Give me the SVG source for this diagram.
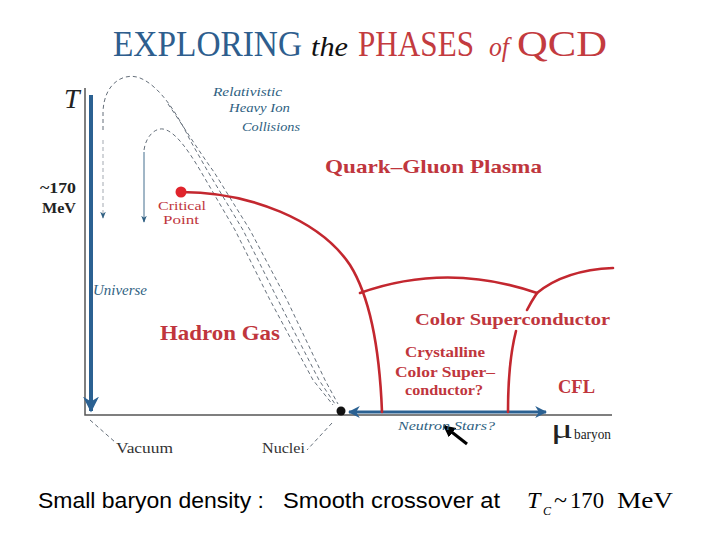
<svg xmlns="http://www.w3.org/2000/svg" width="720" height="540" viewBox="0 0 720 540">
<style>
.serif{font-family:"Liberation Serif","DejaVu Serif",serif}
.red{fill:#c0363d}
.blue{fill:#2f5f82}
.it{font-style:italic}
.b{font-weight:bold}
.dash{fill:none;stroke:#3d4a58;stroke-width:0.8;stroke-dasharray:4 3}
.phase{fill:none;stroke:#c3272f;stroke-width:2.6;stroke-linecap:round}
.sans{font-family:"Liberation Sans",Arial,sans-serif}
</style>
<defs>
<marker id="ab" viewBox="0 0 10 10" refX="9" refY="5" markerWidth="4" markerHeight="4" orient="auto-start-reverse" markerUnits="strokeWidth"><path d="M0,0 L10,5 L0,10 L3,5 z" fill="#2b6192"/></marker>
<marker id="as" viewBox="0 0 10 10" refX="9" refY="5" markerWidth="7" markerHeight="7" orient="auto" markerUnits="userSpaceOnUse"><path d="M0,1 L10,5 L0,9 L3,5 z" fill="#2f5f82"/></marker>
<marker id="ak" viewBox="0 0 10 10" refX="9" refY="5" markerWidth="4" markerHeight="4" orient="auto" markerUnits="strokeWidth"><path d="M0,0 L10,5 L0,10 z" fill="#000"/></marker>
</defs>
<rect width="720" height="540" fill="#fff"/>

<g id="title" class="serif">
<text x="113" y="56" font-size="35" fill="#2e5e8e" textLength="189" lengthAdjust="spacingAndGlyphs">EXPLORING</text>
<text x="311" y="56" font-size="28" class="it" fill="#111" textLength="37" lengthAdjust="spacingAndGlyphs">the</text>
<text x="358" y="56" font-size="35" fill="#c33b3f" textLength="116" lengthAdjust="spacingAndGlyphs">PHASES</text>
<text x="489" y="56" font-size="27" class="it" fill="#c33b3f" textLength="20" lengthAdjust="spacingAndGlyphs">of</text>
<text x="517" y="56" font-size="35" fill="#c33b3f" textLength="90" lengthAdjust="spacingAndGlyphs">QCD</text>
</g>

<g id="axes" stroke="#555" stroke-width="1.5" fill="none">
<path d="M85,88 L85,415 L612,415"/>
</g>

<g id="connectors">
<line x1="91" y1="95" x2="91" y2="411" stroke="#2b6192" stroke-width="4" marker-end="url(#ab)"/>
<path class="dash" d="M103,130 L103,112 C104,82 125,72 140,78 C160,86 178,115 190,140 L207,170 L243,230 L278,300 L319,380 L335,404"/>
<path class="dash" d="M103,140 L103,218" marker-end="url(#as)" stroke-opacity="0.6"/>
<path class="dash" d="M168,104 C182,124 198,150 214,172 L250,230 L287,300 L325,380 L338,404"/>
<path class="dash" d="M144,150 C146,136 155,128 163,129 C175,131 188,150 200,170 L235,230 L270,300 L313,380 L333,405"/>
<path d="M144,152 L144,222" fill="none" stroke="#2f5f82" stroke-width="0.9" marker-end="url(#as)"/>
<line x1="90" y1="420" x2="115" y2="442" class="dash" stroke-dasharray="2 1.5"/>
<line x1="332" y1="423" x2="307" y2="450" class="dash" stroke-dasharray="2 1.5"/>
<line x1="349" y1="412" x2="546" y2="412" stroke="#2b6192" stroke-width="3" marker-start="url(#ab)" marker-end="url(#ab)"/>
<line x1="467" y1="444" x2="444" y2="426" stroke="#000" stroke-width="3" marker-end="url(#ak)"/>
</g>

<g id="phase-lines">
<path class="phase" d="M181,192 C250,192 320,220 350,265 C372,300 380,360 382,412"/>
<path class="phase" d="M360,293 Q447,262 537,293"/>
<path class="phase" d="M537,293 Q565,270 613,268"/>
<path class="phase" d="M537,293 Q531,302 527,310"/>
<path class="phase" d="M516,331 Q508,362 508,412"/>
</g>

<g id="critical-point">
<circle cx="181" cy="192" r="5.5" fill="#e0242c"/>
<text x="158" y="210" font-size="13" class="serif red" textLength="48" lengthAdjust="spacingAndGlyphs">Critical</text>
<text x="163" y="224" font-size="13" class="serif red" textLength="36" lengthAdjust="spacingAndGlyphs">Point</text>
</g>

<g id="nuclei-point">
<circle cx="341" cy="411" r="4.5" fill="#111"/>
</g>

<g id="labels" class="serif">
<text x="64" y="108" font-size="28" class="it" fill="#222">T</text>
<text x="40" y="193" font-size="14" class="b" fill="#222" textLength="36" lengthAdjust="spacingAndGlyphs">~170</text>
<text x="42" y="213" font-size="14" class="b" fill="#222" textLength="34" lengthAdjust="spacingAndGlyphs">MeV</text>
<text x="213" y="96" font-size="13" class="it blue" textLength="69" lengthAdjust="spacingAndGlyphs">Relativistic</text>
<text x="229" y="112" font-size="13" class="it blue" textLength="61" lengthAdjust="spacingAndGlyphs">Heavy Ion</text>
<text x="242" y="131" font-size="13" class="it blue" textLength="58" lengthAdjust="spacingAndGlyphs">Collisions</text>
<text x="325" y="173" font-size="19" class="b red" textLength="217" lengthAdjust="spacingAndGlyphs">Quark–Gluon Plasma</text>
<text x="93" y="295" font-size="14" class="it blue" textLength="54" lengthAdjust="spacingAndGlyphs">Universe</text>
<text x="160" y="340" font-size="21" class="b red" textLength="120" lengthAdjust="spacingAndGlyphs">Hadron Gas</text>
<text x="415" y="325" font-size="17" class="b red" textLength="195" lengthAdjust="spacingAndGlyphs">Color Superconductor</text>
<text x="405" y="357" font-size="14" class="b red" textLength="80" lengthAdjust="spacingAndGlyphs">Crystalline</text>
<text x="395" y="377" font-size="14" class="b red" textLength="100" lengthAdjust="spacingAndGlyphs">Color Super–</text>
<text x="405" y="395" font-size="14" class="b red" textLength="78" lengthAdjust="spacingAndGlyphs">conductor?</text>
<text x="558" y="393" font-size="19" class="b red" textLength="37" lengthAdjust="spacingAndGlyphs">CFL</text>
<text x="398" y="430" font-size="13" class="it blue" textLength="97" lengthAdjust="spacingAndGlyphs">Neutron Stars?</text>
<text x="551" y="438" font-size="28" fill="#222" textLength="22" lengthAdjust="spacingAndGlyphs">μ</text>
<text x="574" y="439" font-size="14" fill="#222" textLength="37" lengthAdjust="spacingAndGlyphs">baryon</text>
<text x="116" y="453" font-size="14" fill="#333" textLength="57" lengthAdjust="spacingAndGlyphs">Vacuum</text>
<text x="262" y="453" font-size="14" fill="#333" textLength="43" lengthAdjust="spacingAndGlyphs">Nuclei</text>
</g>

<g id="caption">
<text x="38" y="508" font-size="22" class="sans" fill="#000" textLength="226" lengthAdjust="spacingAndGlyphs">Small baryon density :</text>
<text x="283" y="508" font-size="22" class="sans" fill="#000" textLength="217" lengthAdjust="spacingAndGlyphs">Smooth crossover at</text>
<text x="527" y="508" font-size="24" class="serif it" fill="#000">T</text>
<text x="543" y="515" font-size="12" class="serif it" fill="#000">C</text>
<text x="554" y="508" font-size="24" class="serif" fill="#000">~</text>
<text x="570" y="508" font-size="24" class="serif" fill="#000" textLength="34" lengthAdjust="spacingAndGlyphs">170</text>
<text x="617" y="508" font-size="24" class="serif" fill="#000" textLength="56" lengthAdjust="spacingAndGlyphs">MeV</text>
</g>
</svg>
